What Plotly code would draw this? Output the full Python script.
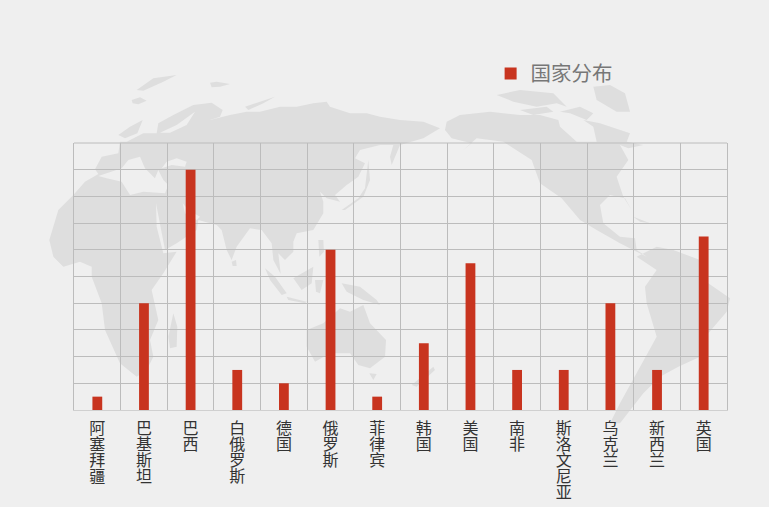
import plotly.graph_objects as go

categories = ["阿塞拜疆", "巴基斯坦", "巴西", "白俄罗斯", "德国", "俄罗斯", "菲律宾",
              "韩国", "美国", "南非", "斯洛文尼亚", "乌克兰", "新西兰", "英国"]
values = [1, 8, 18, 3, 2, 12, 1, 5, 11, 3, 3, 8, 3, 13]
series_name = "国家分布"

W, H = 769, 507
L, R, T, B = 74, 727, 143, 410

# decorative world-map outline, traced in 3x crop units
west = [
    # Afro-Eurasia with Asia's eastern end
    [(385,160),(430,135),(490,105),(545,98),(578,120),(570,140),(540,150),(600,135),(650,125),(690,125),(750,110),(800,110),(850,100),(890,95),(900,110),(960,130),(1010,130),(1050,140),(1110,150),(1180,155),(1230,175),(1180,205),(1110,225),(1085,285),(1080,260),(1090,225),(1050,225),(990,240),(975,265),(1005,280),(985,320),(950,345),(915,375),(930,395),(890,385),(870,365),(880,395),(880,430),(850,480),(800,490),(790,515),(790,545),(765,570),(745,550),(752,612),(730,570),(725,520),(695,480),(660,475),(620,530),(605,570),(590,540),(575,480),(560,465),(505,450),(500,480),(440,520),(405,540),(378,400),(380,470),(400,550),(440,545),(400,610),(365,660),(385,750),(360,810),(370,860),(350,900),(320,920),(270,880),(225,780),(215,700),(185,620),(185,590),(150,575),(100,590),(70,560),(58,510),(85,420),(130,375),(165,335),(205,312),(195,298),(215,260),(265,250),(270,215),(290,215),(340,190),(380,190)],
    # inner seas (even-odd holes)
    [(205,318),(275,295),(295,270),(330,260),(345,295),(375,325),(385,300),(400,330),(415,345),(405,370),(340,365),(300,375),(275,335),(230,325)],
    [(395,295),(410,275),(440,265),(470,275),(465,290),(425,285)],
    [(390,188),(440,165),(495,125),(470,165),(420,188)],
    [(458,400),(475,420),(510,440),(500,450),(465,430)],
    # islands
    [(320,60),(370,25),(440,15),(400,35),(340,62)],
    [(540,38),(560,35),(600,42),(570,50),(545,52)],
    [(305,90),(330,82),(350,92),(325,103),(308,100)],
    [(265,195),(300,170),(338,150),(322,190),(285,205)],
    [(645,110),(735,80),(700,100),(655,120)],
    [(415,800),(430,730),(442,770),(440,830),(420,835)],
    [(605,575),(618,570),(620,588),(608,588)],
    [(935,420),(985,385),(1005,355),(1015,270),(1020,330),(1000,380),(945,420)],
    [(705,595),(735,620),(770,670),(755,675),(720,630)],
    [(770,680),(830,695),(825,700),(775,690)],
    [(790,625),(850,590),(845,640),(815,660)],
    [(855,630),(880,630),(870,670),(858,665)],
    [(865,510),(880,510),(882,545),(868,560)],
    [(935,640),(990,650),(1040,690),(1050,705),(1000,690),(950,665)],
    [(830,780),(880,760),(930,715),(960,725),(1000,705),(1020,760),(1068,810),(1065,860),(1020,895),(985,885),(960,850),(900,850),(855,875),(830,830)],
    [(1018,910),(1040,912),(1030,930)],
]
east = [
    [(200,155),(240,135),(330,125),(420,135),(480,135),(535,150),(540,170),(590,215),(650,215),(640,170),(610,150),(660,160),(750,190),(740,215),(790,225),(745,235),(720,225),(745,270),(710,320),(730,380),(755,420),(735,385),(690,375),(660,405),(670,460),(720,500),(765,505),(770,540),(800,560),(770,545),(720,520),(650,480),(600,450),(545,385),(480,340),(455,270),(370,215),(290,205),(250,240),(275,220),(215,205),(195,180)],
    [(640,50),(690,45),(735,70),(750,125),(710,125),(650,90)],
    [(350,75),(420,60),(520,70),(560,110),(530,100),(470,110),(400,95)],
    [(420,120),(500,110),(520,125),(460,135)],
    [(540,125),(600,110),(640,130),(620,150),(570,130)],
    [(760,440),(810,460),(780,455)],
    [(770,560),(830,530),(880,540),(960,570),(985,640),(1050,685),(1040,725),(985,790),(960,860),(895,890),(840,920),(790,970),(720,1060),(690,1060),(720,1000),(830,800),(800,700),(795,650),(830,600)],
    [(95,945),(160,890),(165,900),(110,950)],
]


def to_path(polys, ox):
    parts = []
    for poly in polys:
        pts = [((ox + x / 3 - L) / (R - L), (B - (70 + y / 3)) / (B - T)) for x, y in poly]
        parts.append("M" + " L".join(f"{a:.4f},{b:.4f}" for a, b in pts) + " Z")
    return " ".join(parts)


def stacked(name):
    return "<br>".join(f'<span style="font-size:16px">{c}</span>' for c in name)


fig = go.Figure(go.Bar(x=categories, y=values, name=series_name,
                       marker=dict(color="#c8341f", line_width=0),
                       showlegend=True))
fig.update_layout(
    width=W, height=H,
    margin=dict(l=L, r=W - R, t=T, b=H - B, pad=0),
    paper_bgcolor="#efefef", plot_bgcolor="rgba(0,0,0,0)",
    font=dict(family="Noto Sans CJK SC"),
    bargap=0.79,
    legend=dict(x=0.638, y=1.335, xanchor="left", yanchor="top",
                bgcolor="rgba(0,0,0,0)",
                font=dict(size=20.5, color="#777777", family="Noto Sans CJK SC")),
    shapes=[dict(type="path", xref="paper", yref="paper", layer="below",
                 path=to_path(west, 30), fillcolor="#dedede", line_width=0),
            dict(type="path", xref="paper", yref="paper", layer="below",
                 path=to_path(east, 380), fillcolor="#dedede", line_width=0),
            dict(type="line", xref="paper", yref="paper", layer="below",
                 x0=0, x1=1, y0=1, y1=1, line=dict(color="#bcbcbc", width=1))],
)
fig.update_xaxes(type="category", tickmode="array", tickvals=categories,
                 ticktext=[stacked(c) for c in categories],
                 tickangle=0, tickson="boundaries", showgrid=True,
                 gridcolor="#bcbcbc", gridwidth=1, automargin=False,
                 showline=True, linecolor="#d0d0d0", linewidth=1,
                 ticks="", ticklabelstandoff=8,
                 tickfont=dict(size=12.3, color="#333333", family="Noto Sans CJK SC"))
fig.update_yaxes(range=[0, 20], dtick=2, showgrid=True, gridcolor="#bcbcbc", gridwidth=1,
                 zeroline=False, showticklabels=False, ticks="", automargin=False,
                 showline=True, mirror=True, linecolor="#bcbcbc", linewidth=1)

fig.write_html("out.html", post_script="document.body.style.margin='0';",
               config={"displayModeBar": False})
